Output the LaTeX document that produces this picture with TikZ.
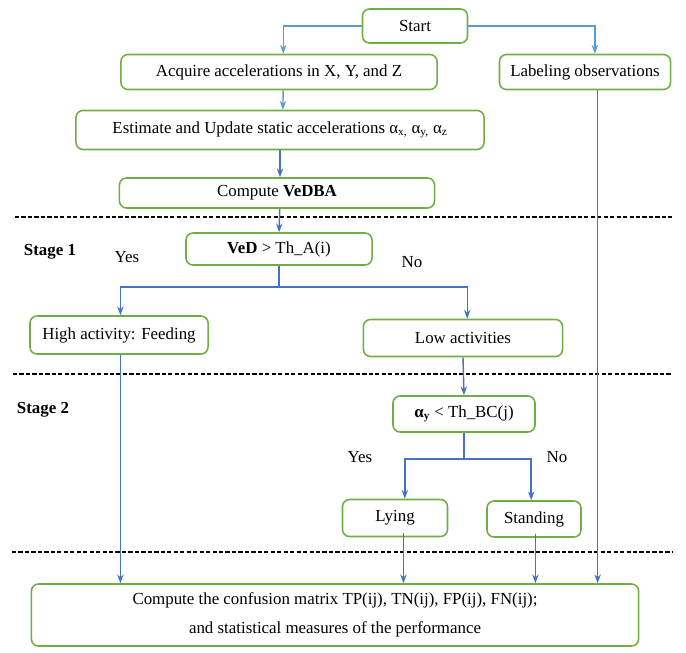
\documentclass[tikz,border=0pt]{standalone}
\usepackage{fontspec}
\setmainfont{Liberation Serif}
\usepackage{tikz}
\usetikzlibrary{arrows.meta,positioning}
\definecolor{flowgreen}{RGB}{112,173,71}
\definecolor{flowblue}{RGB}{68,114,196}
\definecolor{flowsky}{RGB}{91,155,213}

\begin{document}
\begin{tikzpicture}[x=0.025cm,y=-0.025cm,
  arr/.style={-{Stealth[length=2.2mm,width=1.6mm]},line width=1pt,flowblue},
  lab/.style={font=\fontsize{12}{14}\selectfont,align=center},
  box/.style={draw=flowgreen,line width=1.1pt,rounded corners=5pt,fill=white,
    font=\fontsize{12}{14}\selectfont,align=center,inner sep=2pt},
  sep/.style={line width=0.9pt,dash pattern=on 3pt off 1.6pt}
]
\useasboundingbox (0,0) rectangle (686,653);
% boxes
\node[box,minimum width=2.625cm,minimum height=0.85cm] (start) at (415,26) {Start};
\node[box,minimum width=7.9cm,minimum height=0.875cm] (acquire) at (279,72) {Acquire accelerations in X, Y, and Z};
\node[box,minimum width=4.275cm,minimum height=0.875cm] (labeling) at (585,72) {Labeling observations};
\node[box,minimum width=10.2cm,minimum height=0.975cm] (estimate) at (280,130)
  {Estimate and Update static accelerations α\textsubscript{x,} α\textsubscript{y,} α\textsubscript{z}};
\node[box,minimum width=7.875cm,minimum height=0.75cm] (vedba) at (277,193) {Compute \textbf{VeDBA}};
\node[box,minimum width=4.65cm,minimum height=0.8cm] (ved) at (279,249) {\textbf{VeD} > Th\_A(i)};
\node[box,minimum width=4.45cm,minimum height=0.95cm] (high) at (119,335) {High activity: Feeding};
\node[box,minimum width=4.975cm,minimum height=0.925cm] (low) at (463,338) {Low activities};
\node[box,minimum width=3.55cm,minimum height=0.9cm] (alpha) at (464,414) {\textbf{α\textsubscript{y}} < Th\_BC(j)};
\node[box,minimum width=2.625cm,minimum height=0.925cm] (lying) at (395,518) {Lying};
\node[box,minimum width=2.35cm,minimum height=0.9cm] (standing) at (534,519) {Standing};
\node[box,minimum width=15.175cm,minimum height=1.55cm] (confusion) at (335,615)
  {Compute the confusion matrix TP(ij), TN(ij), FP(ij), FN(ij);\\[7pt]
   and statistical measures of the performance};
% stage separators
\draw[sep] (15,217) -- (672,217);
\draw[sep] (13,374) -- (672,374);
\draw[sep] (12,552) -- (672,552);
\node[lab,font=\fontsize{12}{14}\selectfont\bfseries] (stage1) at (50,252) {Stage 1};
\node[lab,font=\fontsize{12}{14}\selectfont\bfseries] (stage2) at (43,410) {Stage 2};
\node[lab] (yes1) at (127,257) {Yes};
\node[lab] (no1) at (412,262) {No};
\node[lab] (yes2) at (360,457) {Yes};
\node[lab] (no2) at (557,457) {No};
% connectors
\coordinate (split1) at (279,287);
\coordinate (split2) at (464,459);
\draw[arr,flowsky] (start.west) -| ([xshift=3]acquire.north);
\draw[arr,flowsky] (start.east) -| ([xshift=7]labeling.north);
\draw[arr,flowsky] ([xshift=3]acquire.south) -- ([xshift=2]estimate.north);
\draw[arr] (estimate.south) -- (estimate.south |- vedba.north);
\draw[arr] ([xshift=2]vedba.south) -- (ved.north);
\draw[line width=1pt,flowblue] (ved.south) -- (split1);
\draw[arr] (split1) -| ([xshift=1]high.north);
\draw[arr] (split1) -| ([xshift=3]low.north);
\draw[arr] (low.south) -- (alpha.north);
\draw[line width=1pt,flowblue] (alpha.south) -- (split2);
\draw[arr] (split2) -| ([xshift=7]lying.north);
\draw[arr] (split2) -| ([xshift=-2]standing.north);
\draw[arr] ([xshift=1]high.south) -- ([xshift=1]high.south |- confusion.north);
\draw[arr] ([xshift=6,yshift=3]lying.south) -- ([xshift=6]lying.south |- confusion.north);
\draw[arr] ([xshift=1,yshift=3]standing.south) -- ([xshift=1]standing.south |- confusion.north);
\draw[arr] ([xshift=9]labeling.south) -- ([xshift=9]labeling.south |- confusion.north);
\end{tikzpicture}
\end{document}
